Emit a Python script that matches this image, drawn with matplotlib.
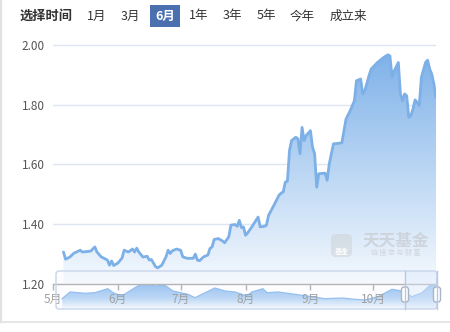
import matplotlib
matplotlib.use("Agg")
import matplotlib.pyplot as plt
import matplotlib.dates as mdates
import numpy as np
import pandas as pd
from matplotlib.patches import FancyBboxPatch, Rectangle
from matplotlib.colors import LinearSegmentedColormap

plt.rcParams['font.family'] = ['Noto Sans CJK SC', 'DejaVu Sans']

# ---------------- data ----------------
dates = ['2020-05-06', '2020-05-07', '2020-05-09', '2020-05-11', '2020-05-14', '2020-05-15',
         '2020-05-19', '2020-05-21', '2020-05-22', '2020-05-24', '2020-05-27', '2020-05-28',
         '2020-05-29', '2020-05-30', '2020-06-01', '2020-06-03', '2020-06-04', '2020-06-06',
         '2020-06-08', '2020-06-09', '2020-06-10', '2020-06-11', '2020-06-13', '2020-06-15',
         '2020-06-16', '2020-06-17', '2020-06-19', '2020-06-20', '2020-06-22', '2020-06-24',
         '2020-06-25', '2020-06-26', '2020-06-27', '2020-06-29', '2020-07-01', '2020-07-02',
         '2020-07-04', '2020-07-07', '2020-07-08', '2020-07-09', '2020-07-10', '2020-07-12',
         '2020-07-14', '2020-07-15', '2020-07-16', '2020-07-17', '2020-07-19', '2020-07-21',
         '2020-07-22', '2020-07-24', '2020-07-25', '2020-07-27', '2020-07-28', '2020-07-29',
         '2020-07-30', '2020-07-31', '2020-08-01', '2020-08-02', '2020-08-04', '2020-08-06',
         '2020-08-07', '2020-08-08', '2020-08-10', '2020-08-11', '2020-08-12', '2020-08-14',
         '2020-08-17', '2020-08-18', '2020-08-19', '2020-08-20', '2020-08-21', '2020-08-22',
         '2020-08-23', '2020-08-25', '2020-08-26', '2020-08-27', '2020-08-28', '2020-08-29',
         '2020-08-30', '2020-09-01', '2020-09-02', '2020-09-03', '2020-09-04', '2020-09-05',
         '2020-09-08', '2020-09-09', '2020-09-10', '2020-09-12', '2020-09-16', '2020-09-18',
         '2020-09-20', '2020-09-22', '2020-09-23', '2020-09-25', '2020-09-26', '2020-09-27',
         '2020-09-29', '2020-09-30', '2020-10-03', '2020-10-06', '2020-10-08', '2020-10-09',
         '2020-10-10', '2020-10-11', '2020-10-13', '2020-10-14', '2020-10-15', '2020-10-16',
         '2020-10-17', '2020-10-18', '2020-10-19', '2020-10-20', '2020-10-21', '2020-10-22',
         '2020-10-23', '2020-10-24', '2020-10-26', '2020-10-27', '2020-10-28', '2020-10-29',
         '2020-10-30', '2020-10-31']
navs = [1.307, 1.283, 1.290, 1.303, 1.313, 1.307,
        1.310, 1.324, 1.307, 1.291, 1.280, 1.263,
        1.277, 1.262, 1.270, 1.287, 1.313, 1.307,
        1.317, 1.307, 1.320, 1.307, 1.290, 1.293,
        1.280, 1.282, 1.258, 1.254, 1.263, 1.291,
        1.313, 1.302, 1.311, 1.317, 1.313, 1.291,
        1.286, 1.286, 1.300, 1.280, 1.278, 1.291,
        1.297, 1.319, 1.324, 1.349, 1.352, 1.344,
        1.338, 1.358, 1.397, 1.399, 1.393, 1.413,
        1.389, 1.391, 1.363, 1.371, 1.391, 1.413,
        1.424, 1.391, 1.393, 1.397, 1.430, 1.456,
        1.497, 1.504, 1.508, 1.541, 1.544, 1.647,
        1.680, 1.691, 1.686, 1.636, 1.724, 1.680,
        1.697, 1.713, 1.658, 1.636, 1.524, 1.569,
        1.571, 1.547, 1.602, 1.669, 1.672, 1.752,
        1.780, 1.813, 1.880, 1.886, 1.836, 1.847,
        1.897, 1.919, 1.941, 1.958, 1.967, 1.963,
        1.891, 1.913, 1.941, 1.836, 1.813, 1.836,
        1.830, 1.758, 1.763, 1.786, 1.816, 1.808,
        1.797, 1.891, 1.941, 1.949, 1.919, 1.902,
        1.869, 1.824]

y_ticks = [1.20, 1.40, 1.60, 1.80, 2.00]
month_ticks = ['2020-05-01', '2020-06-01', '2020-07-01', '2020-08-01', '2020-09-01', '2020-10-01']
month_labels = ['5月', '6月', '7月', '8月', '9月', '10月']
x_start, x_end = '2020-05-01', '2020-10-31'

period_buttons = ['1月', '3月', '6月', '1年', '3年', '5年', '今年', '成立来']
active_button = '6月'
header_label = '选择时间'

# overview (data-zoom slider) series, position in % of slider width, relative level
slider_pos = [1.6, 3.7, 7.6, 10.2, 13.6, 15.0, 17.3, 20.7, 22.8, 26.0, 28.6, 30.7,
              34.6, 36.5, 38.3, 41.7, 44.4, 47.0, 50.1, 51.4, 54.3, 55.4, 58.3, 62.7,
              67.2, 70.6, 75.1, 78.5, 81.1, 84.5, 88.2, 90.8, 93.4, 96.1, 98.7, 100.0]
slider_vals = [10.3, 17.0, 15.7, 16.3, 20.3, 16.3, 13.0, 21.3, 25.7, 23.0, 23.7, 18.0,
               14.7, 11.3, 14.7, 21.0, 18.0, 17.0, 13.0, 17.0, 20.3, 16.3, 17.0, 14.7,
               12.3, 10.3, 11.0, 9.7, 9.0, 12.3, 19.7, 18.0, 12.3, 16.3, 25.7, 30.3]
slider_window = (91.6, 100.0)

# ---------------- figure ----------------
W, H = 450, 332
fig = plt.figure(figsize=(W / 100, H / 100), dpi=100)
fig.patch.set_facecolor('white')

# background overlay (lowest)
bg = fig.add_axes([0, 0, 1, 1], zorder=0)
bg.set_xlim(0, W); bg.set_ylim(H, 0); bg.axis('off')
bg.add_patch(Rectangle((56, 271), 381, 38, fc='#fdfdff', ec='none'))

# mini overview chart
mini = fig.add_axes([56 / W, 1 - 309 / H, 381 / W, 38 / H], zorder=1)
mini.set_xlim(0, 100); mini.set_ylim(0, 38)
mini.axis('off'); mini.patch.set_alpha(0)
mpoly = mini.fill_between(slider_pos, slider_vals, 0, color='none', lw=0)
mcmap = LinearSegmentedColormap.from_list(
    'm', [(0.0, '#f7fbff'), (0.35, '#bcd7f5'), (1.0, '#8dbbee')])
mim = mini.imshow(np.linspace(0, 1, 256).reshape(-1, 1), cmap=mcmap, aspect='auto',
                  origin='lower', extent=[0, 100, 0, max(slider_vals)], zorder=1)
mim.set_clip_path(mpoly.get_paths()[0], transform=mini.transData)
mini.plot(slider_pos, slider_vals, color='#94c0ef', lw=0.9, zorder=2)
mini.set_xlim(0, 100); mini.set_ylim(0, 38)

# main chart
ax = fig.add_axes([53 / W, 1 - 284 / H, 383 / W, 240 / H], zorder=2)
ax.patch.set_alpha(0)
x = mdates.date2num(pd.to_datetime(dates))
x0 = mdates.date2num(pd.Timestamp(x_start))
x1 = mdates.date2num(pd.Timestamp(x_end))
poly = ax.fill_between(x, navs, 1.2, color='none', lw=0)
cmap = LinearSegmentedColormap.from_list('g', ['#f5f9fe', '#7fb2e9'])
im = ax.imshow(np.linspace(0, 1, 256).reshape(-1, 1), cmap=cmap, aspect='auto',
               origin='lower', extent=[x[0], x[-1], 1.2, max(navs)], zorder=1)
im.set_clip_path(poly.get_paths()[0], transform=ax.transData)
ax.plot(x, navs, color='#7cb0e6', lw=2, zorder=3, solid_joinstyle='round',
        solid_capstyle='round')
ax.set_xlim(x0, x1)
ax.set_ylim(1.2, 2.003)
ax.set_yticks(y_ticks)
ax.set_yticklabels([f'{v:.2f}' for v in y_ticks])
ax.set_xticks(mdates.date2num(pd.to_datetime(month_ticks)))
ax.set_xticklabels(month_labels)
ax.grid(axis='y', color='#dfe5f1', lw=1, zorder=0)
ax.set_axisbelow(True)
for s in ['top', 'right', 'left']:
    ax.spines[s].set_visible(False)
ax.spines['bottom'].set_color('#b4b4b4')
ax.spines['bottom'].set_linewidth(1)
ax.spines['bottom'].set_zorder(4)
ax.tick_params(axis='y', length=0, pad=6, labelsize=8.5, labelcolor='#555555')
ax.tick_params(axis='x', length=4, width=1, color='#b4b4b4', pad=2.5,
               labelsize=8.5, labelcolor='#a0a0a0')

# front overlay
fr = fig.add_axes([0, 0, 1, 1], zorder=3)
fr.set_xlim(0, W); fr.set_ylim(H, 0); fr.axis('off'); fr.patch.set_alpha(0)

# slider frame, selection and handles
sx0 = 56 + 381 * slider_window[0] / 100
sx1 = 56 + 381 * slider_window[1] / 100
fr.add_patch(Rectangle((sx0, 271), sx1 - sx0, 38, fc='#d8e7fb', ec='none', alpha=0.4))
fr.add_patch(FancyBboxPatch((56, 271), 381, 38,
                            boxstyle='round,pad=0,rounding_size=3',
                            fc='none', ec='#c8d4ea', lw=1))
fr.plot([sx0, sx0], [271, 309], color='#b9c8e0', lw=1)
fr.plot([sx1, sx1], [271, 309], color='#b9c8e0', lw=1)
for hx in (sx0, sx1):
    fr.add_patch(FancyBboxPatch((hx - 3.5, 287), 7, 15,
                                boxstyle='round,pad=0,rounding_size=2.5',
                                fc='white', ec='#a9b4c6', lw=1))

# header
fr.text(46.5, 16, header_label, ha='center', va='center', fontsize=9.5,
        fontweight='bold', color='#333333')
btn_x = [97, 130.5, 165, 199, 232.5, 266.5, 302.5, 348]
for bx, lab in zip(btn_x, period_buttons):
    if lab == active_button:
        fr.add_patch(Rectangle((bx - 15, 5), 30, 22, fc='#4a70b0', ec='none'))
        fr.text(bx, 16, lab, ha='center', va='center', fontsize=9,
                fontweight='bold', color='white')
    else:
        fr.text(bx, 16, lab, ha='center', va='center', fontsize=9, color='#333333')

# watermark
fr.add_patch(FancyBboxPatch((331, 234), 21, 23, boxstyle='round,pad=0,rounding_size=5',
                            fc='#cfd4da', ec='none', alpha=0.6))
fr.text(341.5, 251, '基金', ha='center', va='center', fontsize=5, color='white',
        fontweight='bold')
fr.text(396, 240.5, '天天基金', ha='center', va='center', fontsize=12,
        fontweight='bold', color='#c9cdd3', alpha=0.75)
fr.text(396, 253, '链 接 您 与 财 富', ha='center', va='center', fontsize=5,
        color='#c9cdd3', alpha=0.8)

# outer frame lines
fr.plot([0.8, 0.8], [0, 322], color='#e2e2e2', lw=1.6)
fr.plot([0, W], [322, 322], color='#e2e2e2', lw=1.2)

fig.savefig('out.png', dpi=100)
